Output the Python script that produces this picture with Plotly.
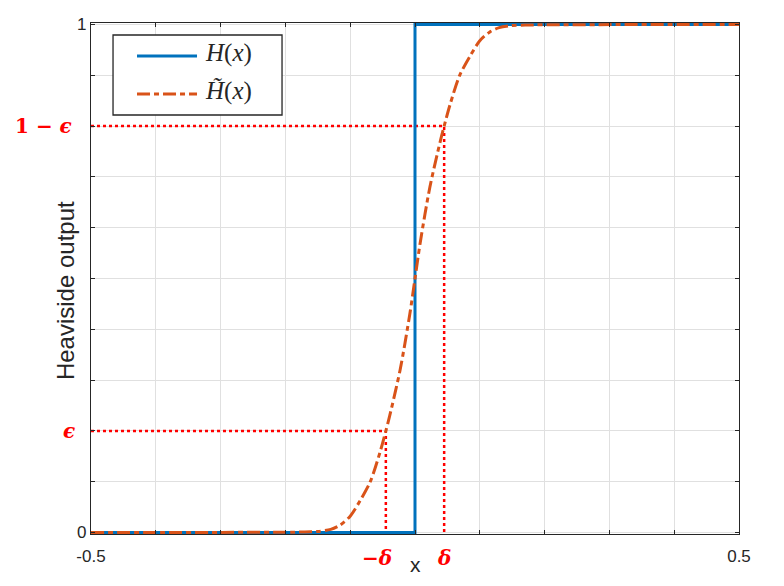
import plotly.graph_objects as go

# step function H(x)
x_step = [-0.5, 0.0, 0.5]
y_step = [0.0, 1.0, 1.0]

# smoothed step H~(x)
x_smooth = [-0.5, -0.2, -0.17, -0.15, -0.13, -0.115, -0.1, -0.085, -0.069, -0.054, -0.045,
            -0.039, -0.023, -0.008, 0.0, 0.008, 0.023, 0.039, 0.045, 0.054, 0.069, 0.085,
            0.1, 0.115, 0.13, 0.15, 0.17, 0.2, 0.5]
y_smooth = [0.0, 0.0005, 0.001, 0.002, 0.006, 0.015, 0.032, 0.062, 0.1, 0.158, 0.2,
            0.23, 0.32, 0.43, 0.5, 0.57, 0.68, 0.77, 0.8, 0.842, 0.9, 0.938,
            0.968, 0.985, 0.994, 0.998, 0.999, 0.9995, 1.0]

# epsilon / delta guide levels
eps = 0.2
delta = 0.045

grid_vals = [round(-0.5 + 0.1 * i, 1) for i in range(11)]
y_grid_vals = [round(0.1 * i, 1) for i in range(11)]
x_labels = ["-0.5"] + [""] * 9 + ["0.5"]
y_labels = ["0"] + [""] * 9 + ["1"]

BLUE = "#0072BD"
ORANGE = "#D95319"
RED = "#ff0000"
DARK = "#262626"
DASHDOT = "13px,4px,5px,4px"

fig = go.Figure()

# guide lines
guide = dict(color=RED, width=2.5, dash="dot")
fig.add_trace(go.Scatter(x=[-0.5, delta, delta], y=[1 - eps, 1 - eps, 0], mode="lines",
                         line=guide, showlegend=False, hoverinfo="skip"))
fig.add_trace(go.Scatter(x=[-0.5, -delta, -delta], y=[eps, eps, 0], mode="lines",
                         line=guide, showlegend=False, hoverinfo="skip"))

fig.add_trace(go.Scatter(x=x_step, y=y_step, mode="lines", line_shape="hv",
                         showlegend=False, line=dict(color=BLUE, width=3)))
fig.add_trace(go.Scatter(x=x_smooth, y=y_smooth, mode="lines", line_shape="spline",
                         showlegend=False,
                         line=dict(color=ORANGE, width=3, dash=DASHDOT, smoothing=0.8)))

# red math labels
math_font = dict(family="DejaVu Serif", size=20, color=RED)
annos = [
    dict(x=-0.5, y=1 - eps, text="<b>1 − <i>ϵ</i></b>", xanchor="right", xshift=-17),
    dict(x=-0.5, y=eps, text="<b><i>ϵ</i></b>", xanchor="right", xshift=-14),
    dict(x=-delta, y=0, text="<b>−<i>δ</i></b>", yanchor="top", yshift=-12, xshift=-9),
    dict(x=delta, y=0, text="<b><i>δ</i></b>", yanchor="top", yshift=-12),
]
for a in annos:
    fig.add_annotation(xref="x", yref="y", showarrow=False, font=math_font, **a)

# axis titles as annotations (placed like the MATLAB original)
fig.add_annotation(x=0, y=0, xref="x", yref="y", text="x", showarrow=False,
                   yanchor="top", yshift=-19,
                   font=dict(family="Liberation Sans", size=21, color=DARK))
fig.add_annotation(x=-0.040, y=0.4755, xref="paper", yref="paper", text="Heaviside output",
                   showarrow=False, textangle=-90, xanchor="center", yanchor="middle",
                   font=dict(family="Liberation Sans", size=24, color=DARK))

# legend box drawn by hand (MATLAB style, long sample lines)
fig.add_shape(type="rect", xref="paper", yref="paper", x0=0.034, x1=0.2948, y0=0.820, y1=0.9765,
              line=dict(color=DARK, width=1.3), fillcolor="white", layer="above")
fig.add_shape(type="line", xref="paper", yref="paper", x0=0.071, x1=0.1636, y0=0.9354, y1=0.9354,
              line=dict(color=BLUE, width=3), layer="above")
fig.add_shape(type="line", xref="paper", yref="paper", x0=0.071, x1=0.1636, y0=0.8611, y1=0.8611,
              line=dict(color=ORANGE, width=3, dash=DASHDOT), layer="above")
legend_font = dict(family="Liberation Serif", size=25, color=DARK)
fig.add_annotation(x=0.1728, y=0.9414, xref="paper", yref="paper", xanchor="left",
                   yanchor="middle", text="<i>H</i>(<i>x</i>)", showarrow=False,
                   font=legend_font)
fig.add_annotation(x=0.1728, y=0.8671, xref="paper", yref="paper", xanchor="left",
                   yanchor="middle", text="<i>H\u0303</i>(<i>x</i>)", showarrow=False,
                   font=legend_font)

axis_common = dict(
    showgrid=True, gridcolor="#e0e0e0", gridwidth=1,
    showline=True, linecolor=DARK, linewidth=1.3, mirror="ticks",
    ticks="inside", ticklen=4, tickcolor=DARK,
    tickfont=dict(family="Liberation Sans", size=17, color=DARK),
    zeroline=False, automargin=False,
)

fig.update_xaxes(range=[-0.5, 0.5], tickvals=grid_vals, ticktext=x_labels,
                 ticklabelstandoff=6, **axis_common)
fig.update_yaxes(range=[-0.003, 1.003], tickvals=y_grid_vals, ticktext=y_labels,
                 **axis_common)

fig.update_layout(
    width=768, height=570,
    margin=dict(l=83, r=37, t=15, b=44),
    plot_bgcolor="white", paper_bgcolor="white",
    showlegend=False,
)

fig.write_html("out.html")
